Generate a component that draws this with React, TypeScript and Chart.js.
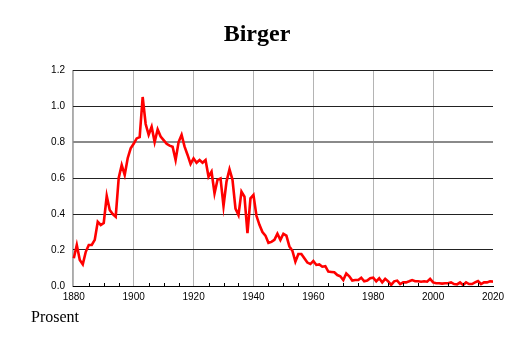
import React, { useEffect, useRef } from "react";
import { Chart, registerables } from "chart.js";

Chart.register(...registerables);

const TITLE = "Birger";
const Y_LABEL = "Prosent";

const START_YEAR = 1880;
// Values per decade (percent), 1880..2020
const values1880s = [0.154, 0.228, 0.144, 0.12, 0.19, 0.228, 0.228, 0.256, 0.357, 0.339];
const values1890s = [0.35, 0.5, 0.422, 0.4, 0.385, 0.6, 0.672, 0.617, 0.71, 0.765];
const values1900s = [0.79, 0.82, 0.827, 1.05, 0.9, 0.84, 0.885, 0.8, 0.87, 0.83];
const values1910s = [0.81, 0.79, 0.78, 0.774, 0.7, 0.8, 0.84, 0.774, 0.728, 0.678];
const values1920s = [0.709, 0.685, 0.7, 0.685, 0.7, 0.607, 0.635, 0.515, 0.59, 0.598];
const values1930s = [0.444, 0.58, 0.648, 0.59, 0.43, 0.394, 0.524, 0.496, 0.293, 0.487];
const values1940s = [0.506, 0.39, 0.34, 0.3, 0.28, 0.24, 0.245, 0.256, 0.29, 0.256];
const values1950s = [0.29, 0.28, 0.22, 0.196, 0.135, 0.178, 0.178, 0.154, 0.13, 0.122];
const values1960s = [0.139, 0.117, 0.12, 0.107, 0.11, 0.08, 0.078, 0.076, 0.061, 0.054];
const values1970s = [0.033, 0.07, 0.054, 0.03, 0.033, 0.033, 0.046, 0.026, 0.03, 0.043];
const values1980s = [0.046, 0.026, 0.043, 0.02, 0.04, 0.026, 0.006, 0.026, 0.03, 0.011];
const values1990s = [0.02, 0.02, 0.026, 0.033, 0.026, 0.026, 0.024, 0.026, 0.024, 0.04];
const values2000s = [0.02, 0.015, 0.015, 0.013, 0.015, 0.015, 0.02, 0.011, 0.009, 0.02];
const values2010s = [0.006, 0.02, 0.011, 0.011, 0.02, 0.028, 0.011, 0.02, 0.02, 0.026];
const values2020s = [0.024];

const yTicks = [0, 0.2, 0.4, 0.6, 0.8, 1.0, 1.2];
const xMajorYears = [1880, 1900, 1920, 1940, 1960, 1980, 2000, 2020];

const allValues = [
  ...values1880s, ...values1890s, ...values1900s, ...values1910s, ...values1920s,
  ...values1930s, ...values1940s, ...values1950s, ...values1960s, ...values1970s,
  ...values1980s, ...values1990s, ...values2000s, ...values2010s, ...values2020s,
];

const X_MIN = 1879.4;
const X_MAX = 2020;

export default function App() {
  const ref = useRef<HTMLCanvasElement | null>(null);

  useEffect(() => {
    document.body.style.margin = "0";
    const canvas = ref.current;
    if (!canvas) return;
    const points = allValues.map((v, i) => ({ x: START_YEAR + i, y: v }));

    const minorTicks = {
      id: "minorTicks",
      afterDatasetsDraw(chart: any) {
        const xs = chart.scales.x;
        const area = chart.chartArea;
        const ctx = chart.ctx;
        ctx.save();
        ctx.strokeStyle = "#000";
        ctx.lineWidth = 1;
        for (let yr = 1885; yr < X_MAX; yr += 5) {
          if (yr % 20 === 0) continue;
          const px = Math.round(xs.getPixelForValue(yr)) + 0.5;
          ctx.beginPath();
          ctx.moveTo(px, area.bottom);
          ctx.lineTo(px, area.bottom - 3);
          ctx.stroke();
        }
        ctx.restore();
      },
    };

    const chart = new Chart(canvas, {
      type: "line",
      data: {
        datasets: [
          {
            data: points,
            borderColor: "#ff0000",
            borderWidth: 2.6,
            pointRadius: 0,
            tension: 0,
            fill: false,
          },
        ],
      },
      options: {
        responsive: false,
        animation: false,
        layout: { padding: { top: 70, right: 21, left: 0, bottom: 0 } },
        plugins: {
          legend: { display: false },
          title: { display: false },
          tooltip: { enabled: false },
        },
        scales: {
          x: {
            type: "linear",
            min: X_MIN,
            max: X_MAX,
            afterBuildTicks(scale: any) {
              scale.ticks = xMajorYears.map((v) => ({ value: v }));
            },
            afterFit(scale: any) {
              scale.height = 57;
            },
            border: { display: true, color: "#000", width: 1 },
            grid: {
              drawTicks: false,
              color: (c: any) =>
                c.tick && c.tick.value === X_MAX ? "rgba(0,0,0,0)" : "#b4b4b4",
              lineWidth: 1,
            },
            ticks: {
              padding: 5,
              maxRotation: 0,
              autoSkip: false,
              color: "#000",
              font: { family: "'Liberation Sans', Arial, sans-serif", size: 10 },
              callback: (v: any) => String(v),
            },
          },
          y: {
            min: 0,
            max: 1.2,
            afterBuildTicks(scale: any) {
              scale.ticks = yTicks.map((v) => ({ value: v }));
            },
            afterFit(scale: any) {
              scale.width = 72;
            },
            border: { display: true, color: "#aaaaaa", width: 1 },
            grid: {
              drawTicks: false,
              color: (c: any) =>
                c.tick && Math.abs(c.tick.value - 0.8) < 1e-6 ? "#8a8a8a" : "#222",
              lineWidth: (c: any) =>
                c.tick && Math.abs(c.tick.value - 0.8) < 1e-6 ? 2 : 1,
            },
            ticks: {
              padding: 7,
              color: "#000",
              font: { family: "'Liberation Sans', Arial, sans-serif", size: 10 },
              callback: (v: any) => Number(v).toFixed(1),
            },
          },
        },
      },
      plugins: [minorTicks],
    });
    return () => chart.destroy();
  }, []);

  return (
    <div style={{ position: "relative", width: 514, height: 343, background: "#fff" }}>
      <canvas ref={ref} width={514} height={343} style={{ display: "block" }} />
      <div
        style={{
          position: "absolute",
          top: 21,
          left: 0,
          width: 514,
          textAlign: "center",
          fontFamily: "'Liberation Serif', 'Times New Roman', serif",
          fontWeight: "bold",
          fontSize: 24,
          lineHeight: "24px",
          color: "#000",
        }}
      >
        {TITLE}
      </div>
      <div
        style={{
          position: "absolute",
          top: 309,
          left: 31,
          fontFamily: "'Liberation Serif', 'Times New Roman', serif",
          fontSize: 16,
          lineHeight: "16px",
          color: "#000",
        }}
      >
        {Y_LABEL}
      </div>
    </div>
  );
}
